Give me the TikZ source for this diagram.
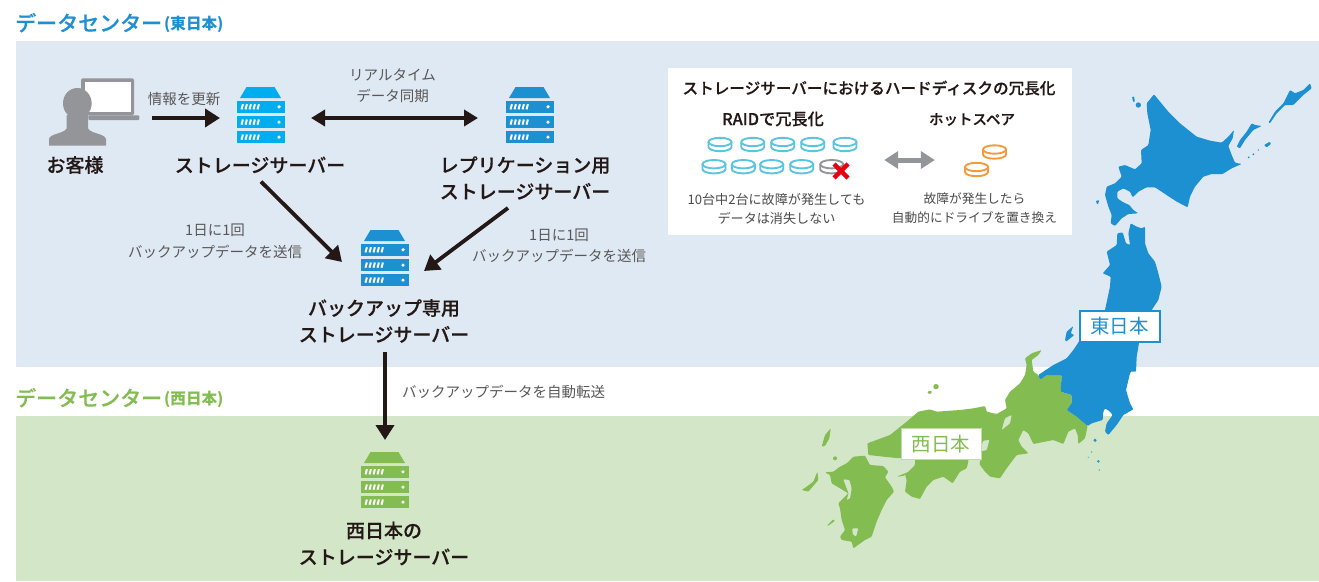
\documentclass[tikz,border=0pt]{standalone}
\usepackage{fontspec}
\setmainfont{Noto Sans CJK JP}
\newfontfamily\boldjp{Noto Sans CJK JP Medium}[FakeBold=0.25]
\usetikzlibrary{arrows.meta,calc}
\definecolor{bgblue}{HTML}{DFE9F3}
\definecolor{bggreen}{HTML}{D3E7C8}
\definecolor{mapblue}{HTML}{1D90D1}
\definecolor{mapgreen}{HTML}{83BC50}
\definecolor{srvcyan}{HTML}{00AEEF}
\definecolor{inkdark}{HTML}{231815}
\definecolor{inkgray}{HTML}{595757}
\definecolor{iconstone}{HTML}{949599}
\definecolor{diskcyan}{HTML}{5BC5DF}
\definecolor{diskorange}{HTML}{F39A3C}
\definecolor{crossred}{HTML}{E60012}
\tikzset{
  headtext/.style={font=\boldjp\fontsize{19}{26.5}\selectfont,text=inkdark,align=center,inner sep=0pt},
  smalltext/.style={font=\fontsize{14.5}{21.5}\selectfont,text=inkgray,align=center,inner sep=0pt},
  paneltext/.style={font=\fontsize{12.8}{19}\selectfont,text=inkgray!85!black,align=center,inner sep=0pt},
  panelhead/.style={font=\boldjp\fontsize{15.6}{20}\selectfont,text=inkdark,inner sep=0pt},
  arrowline/.style={draw=inkdark,line width=3.8pt,-{Triangle[length=15pt,width=18pt]}},
  arrowboth/.style={draw=inkdark,line width=3.8pt,{Triangle[length=14pt,width=16pt]}-{Triangle[length=14pt,width=16pt]}},
  iconbox/.style={minimum width=48pt,minimum height=56pt,inner sep=0pt,outer sep=0pt},
  regionlabel/.style={font=\fontsize{19.5}{22}\selectfont,fill=white,inner sep=0pt,minimum height=31pt},
  zthree/.style={shift={(1040,70)},x=0.33333pt,y=-0.33333pt,rounded corners=0.9pt},
  zfour/.style={shift={(790,340)},x=0.33333pt,y=-0.33333pt,rounded corners=0.9pt},
}
\newcommand{\ServerIcon}[4]{%
  \node[iconbox] (#1) at (#2,#3+28) {};
  \begin{scope}[shift={(#2,#3)}]
    \fill[#4] (-14.5,0) -- (13.5,0) -- (20,11) -- (-21,11) -- cycle;
    \foreach \barY in {14,29.3,44.3}{
      \fill[#4] (-24,\barY) rectangle (24,\barY+11.6);
      \fill[white] (18,\barY+5.8) circle (1.8);
      \foreach \sx in {-19.5,-15.5,-11.5,-7.5,-3.5}{
        \draw[white,line width=2pt] (\sx,\barY+8.4) -- (\sx+1.4,\barY+3.2);
      }
    }
  \end{scope}
}
\newcommand{\DiskIcon}[3]{%
  \begin{scope}[shift={(#1,#2)}]
    \draw[#3,line width=1.9pt] (0,-2.5) ellipse (11.5 and 4.2);
    \draw[#3,line width=1.9pt] (-11.5,-2.5) -- (-11.5,2.5) arc[start angle=180,end angle=360,x radius=11.5,y radius=-4.2] -- (11.5,-2.5);
  \end{scope}
}
\begin{document}
\begin{tikzpicture}[x=1pt,y=-1pt]
\useasboundingbox (0,0) rectangle (1319,581);
\fill[white] (0,0) rectangle (1319,581);
\fill[bgblue] (16,41) rectangle (1319,367);
\fill[bggreen] (16,416) rectangle (1319,581);

% ---- map, west
\begin{scope}[zfour]
  \fill[mapgreen] (705,55) -- (725,40) -- (755,30) -- (745,45) -- (725,60) -- (730,95) -- (745,105) -- (750,120) -- (770,105) -- (815,105) -- (812,155) -- (845,165) -- (845,190) -- (830,210) -- (860,230) -- (893,258) -- (885,295) -- (865,312) -- (863,285) -- (855,265) -- (835,275) -- (820,312) -- (790,300) -- (730,312) -- (715,280) -- (700,270) -- (685,300) -- (695,320) -- (715,340) -- (680,345) -- (650,385) -- (630,415) -- (600,410) -- (585,395) -- (568,372) -- (575,350) -- (570,340) -- (400,340) -- (330,355) -- (280,350) -- (235,345) -- (232,310) -- (300,285) -- (350,245) -- (385,215) -- (420,208) -- (440,215) -- (510,210) -- (550,205) -- (585,198) -- (590,215) -- (620,222) -- (650,205) -- (645,180) -- (660,155) -- (690,130) -- (705,105) -- (710,75) -- cycle;
  \fill[bggreen] (635,270) -- (645,235) -- (665,225) -- (660,250) -- cycle;
  \fill[bggreen] (568,335) -- (580,302) -- (598,300) -- (590,330) -- cycle;
  % Shikoku
  \fill[mapgreen] (375,350) -- (535,350) -- (535,365) -- (530,385) -- (510,395) -- (488,430) -- (460,410) -- (430,420) -- (410,440) -- (390,477) -- (365,470) -- (345,455) -- (350,420) -- (345,405) -- (375,375) -- cycle;
  % Kyushu
  \fill[mapgreen] (190,350) -- (225,347) -- (240,375) -- (280,378) -- (295,395) -- (285,412) -- (305,440) -- (312,455) -- (290,480) -- (275,510) -- (260,545) -- (245,590) -- (225,600) -- (190,625) -- (185,605) -- (155,600) -- (150,590) -- (165,570) -- (155,540) -- (150,505) -- (145,490) -- (165,470) -- (175,460) -- (150,445) -- (125,430) -- (120,405) -- (105,397) -- (130,395) -- (150,380) -- (170,370) -- cycle;
  \fill[bggreen] (160,418) -- (178,420) -- (185,445) -- (180,475) -- (170,480) -- (176,460) -- (170,445) -- cycle;
  \fill[bggreen] (187,565) -- (205,565) -- (198,590) -- (188,582) -- cycle;
  % small islands
  \fill[mapgreen] (95,320) -- (105,285) -- (122,265) -- (118,295) -- (105,318) -- cycle;
  \fill[mapgreen] (135,355) circle (6);
  \fill[mapgreen] (35,450) -- (50,440) -- (70,425) -- (82,395) -- (85,420) -- (55,455) -- cycle;
  \fill[mapgreen] (438,140) circle (8);
  \fill[mapgreen] (412,155) -- (425,152) -- (425,160) -- (415,162) -- cycle;
  \fill[mapgreen] (110,558) -- (130,538) -- (135,542) -- (118,555) -- cycle;
  \fill[mapgreen] (320,410) -- (365,392) -- (340,408) -- cycle;
  % Honshu east, south part
  \fill[mapblue] (1035,0) -- (1038,70) -- (1020,100) -- (1008,150) -- (1020,190) -- (1030,208) -- (1000,225) -- (980,255) -- (955,285) -- (945,275) -- (950,250) -- (968,225) -- (960,215) -- (945,205) -- (940,215) -- (938,240) -- (905,250) -- (893,258) -- (860,230) -- (830,210) -- (845,190) -- (845,165) -- (812,155) -- (815,105) -- (770,105) -- (750,120) -- (745,105) -- (790,75) -- (830,55) -- (850,30) -- (870,0) -- cycle;
  \fill[mapblue] (915,301) circle (5);
  \fill[mapblue] (925,364) circle (4);
  \fill[diskcyan] (905,336) circle (3);
  \fill[diskcyan] (895,352) circle (2.5);
  \fill[diskcyan] (928,390) circle (3);
\end{scope}
% ---- map, north
\begin{scope}[zthree]
  \fill[mapblue] (320,100) -- (342,73) -- (360,95) -- (385,125) -- (420,160) -- (470,200) -- (510,212) -- (545,218) -- (565,200) -- (582,180) -- (578,205) -- (565,228) -- (575,255) -- (585,278) -- (605,282) -- (575,295) -- (548,312) -- (515,312) -- (490,320) -- (465,350) -- (450,380) -- (443,412) -- (410,395) -- (375,372) -- (345,352) -- (320,352) -- (295,365) -- (278,382) -- (270,365) -- (250,355) -- (232,365) -- (232,385) -- (250,397) -- (268,405) -- (280,420) -- (295,430) -- (265,432) -- (245,445) -- (225,468) -- (212,460) -- (215,435) -- (205,410) -- (195,375) -- (200,350) -- (225,340) -- (245,320) -- (235,290) -- (255,285) -- (285,298) -- (305,280) -- (303,240) -- (325,225) -- (332,180) -- (322,130) -- cycle;
  \fill[mapblue] (295,105) circle (8);
  \fill[mapblue] (276,80) -- (283,80) -- (284,97) -- (279,95) -- cycle;
  \fill[mapblue] (167,393) -- (178,390) -- (173,405) -- cycle;
  \fill[mapblue] (590,230) -- (600,210) -- (620,185) -- (635,160) -- (645,165) -- (665,168) -- (640,180) -- (615,210) -- (600,235) -- cycle;
  \fill[mapblue] (685,158) -- (705,125) -- (730,100) -- (750,60) -- (765,70) -- (790,60) -- (810,40) -- (815,55) -- (790,75) -- (760,105) -- (735,105) -- (710,130) -- (690,160) -- cycle;
  \fill[mapblue] (672,225) -- (690,215) -- (693,222) -- (680,232) -- cycle;
  \fill[mapblue] (655,240) circle (2);
  \fill[mapblue] (640,253) circle (3);
  \fill[mapblue] (626,262) circle (3);
  \fill[mapblue] (232,490) -- (248,487) -- (258,520) -- (270,525) -- (265,490) -- (272,460) -- (290,470) -- (305,475) -- (315,470) -- (315,520) -- (325,550) -- (345,575) -- (355,610) -- (365,650) -- (355,690) -- (335,720) -- (300,800) -- (290,860) -- (288,905) -- (10,905) -- (60,880) -- (100,850) -- (115,818) -- (195,720) -- (210,650) -- (212,620) -- (188,610) -- (210,585) -- (200,545) -- (230,525) -- cycle;
  \fill[mapblue] (75,810) -- (80,785) -- (100,768) -- (92,790) -- (103,795) -- (78,815) -- cycle;
\end{scope}
\node[regionlabel,draw=mapblue,line width=2pt,text=mapblue,minimum width=80pt] (east) at (1119.5,326.5) {東日本};
\node[regionlabel,draw=mapgreen!50!white,line width=1pt,text=mapgreen,minimum width=80pt] (west) at (941,444) {西日本};

% ---- titles
\node[anchor=base west,inner sep=0pt,font=\boldjp\fontsize{21}{24}\selectfont,text=mapblue] (titleA) at (15,31) {データセンター};
\node[anchor=base west,inner sep=0pt,font=\fontsize{15.6}{18}\selectfont\bfseries,text=mapblue] (titleAb) at (164,29) {(東日本)};
\node[anchor=base west,inner sep=0pt,font=\boldjp\fontsize{21}{24}\selectfont,text=mapgreen] (titleB) at (15,406) {データセンター};
\node[anchor=base west,inner sep=0pt,font=\fontsize{15.6}{18}\selectfont\bfseries,text=mapgreen] (titleBb) at (164,404) {(西日本)};

% ---- customer icon
\begin{scope}[shift={(20,60)},x=0.33333pt,y=-0.33333pt]
  \fill[iconstone,rounded corners=1.5pt] (183,55) rectangle (342,166);
  \fill[white] (195,66) rectangle (332,155);
  \fill[iconstone,rounded corners=1pt] (205,166) rectangle (358,180);
  \fill[iconstone] (172,130) ellipse (43 and 46);
  \fill[iconstone] (87,257) -- (87,238) .. controls (88,220) and (132,222) .. (140,205) -- (140,165) -- (204,165) -- (204,205) .. controls (212,222) and (256,220) .. (258,238) -- (258,257) -- cycle;
\end{scope}
\node[iconbox,minimum width=90pt,minimum height=68pt] (customer) at (94,113) {};

% ---- servers
\ServerIcon{srvmain}{261}{87}{srvcyan}
\ServerIcon{srvrepl}{530}{87}{mapblue}
\ServerIcon{srvback}{385}{230}{mapblue}
\ServerIcon{srvwest}{385}{452}{mapgreen}

% ---- labels
\node[headtext] (lcustomer) at (75,165) {お客様};
\node[headtext] (lmain) at (260,165) {ストレージサーバー};
\node[headtext] (lrepl) at (525,178) {レプリケーション用\\ストレージサーバー};
\node[headtext] (lback) at (384,321) {バックアップ専用\\ストレージサーバー};
\node[headtext] (lwest) at (384,543.5) {西日本の\\ストレージサーバー};

\node[smalltext] (tupdate) at (184,99) {情報を更新};
\node[smalltext] (tsync) at (392.5,85.5) {リアルタイム\\データ同期};
\node[smalltext] (tleft) at (215,241.5) {1日に1回\\バックアップデータを送信};
\node[smalltext] (tright) at (559,246) {1日に1回\\バックアップデータを送信};
\node[smalltext,anchor=west] (tauto) at (402,392) {バックアップデータを自動転送};

% ---- connectors
\draw[arrowline] ([shift={(13,5)}]customer.east) -- ([shift={(-17,3)}]srvmain.west);
\draw[arrowboth] ([shift={(26,3)}]srvmain.east) -- ([shift={(-28,3)}]srvrepl.west);
\draw[arrowline] ([shift={(1,8)}]lmain.south) -- ([shift={(-19,4)}]srvback.west);
\draw[arrowline] ([shift={(-17,8)}]lrepl.south) -- ([shift={(15,13)}]srvback.east);
\draw[arrowline] ([shift={(1,9)}]lback.south) -- ([shift={(0,-12)}]srvwest.north);

% ---- panel
\fill[white] (668,68) rectangle (1072,235);
\node[panelhead,anchor=center] (ptitle) at (869,88) {ストレージサーバーにおけるハードディスクの冗長化};
\node[panelhead,anchor=center,font=\boldjp\fontsize{16.2}{20}\selectfont] (praid) at (773,119) {RAIDで冗長化};
\node[panelhead,anchor=center,font=\boldjp\fontsize{14.5}{18}\selectfont] (pspare) at (972,119.5) {ホットスペア};
\node[paneltext,font=\fontsize{13.1}{19}\selectfont] (pnoteA) at (776.5,208.5) {10台中2台に故障が発生しても\\データは消失しない};
\node[paneltext,font=\fontsize{12.7}{19}\selectfont] (pnoteB) at (974.5,208.5) {故障が発生したら\\自動的にドライブを置き換え};
\foreach \dx in {720,752.7,782.7,812.7,845}{\DiskIcon{\dx}{144.5}{diskcyan}}
\foreach \dx in {714,743.3,771.7,801.7}{\DiskIcon{\dx}{166.7}{diskcyan}}
\DiskIcon{831.7}{166.7}{iconstone}
\draw[crossred,line width=4.5pt] (834,164) -- (848,178) (848,164) -- (834,178);
\DiskIcon{994.5}{152}{diskorange}
\DiskIcon{976.5}{169.5}{diskorange}
\node[inner sep=0pt,minimum width=4pt,minimum height=4pt] (raidgroup) at (860,160) {};
\node[inner sep=0pt,minimum width=4pt,minimum height=4pt] (sparegroup) at (959,160) {};
\draw[draw=iconstone,line width=5pt,{Triangle[length=14pt,width=17pt]}-{Triangle[length=14pt,width=17pt]},shorten <=22pt,shorten >=22pt] (raidgroup) -- (sparegroup);
\end{tikzpicture}
\end{document}
